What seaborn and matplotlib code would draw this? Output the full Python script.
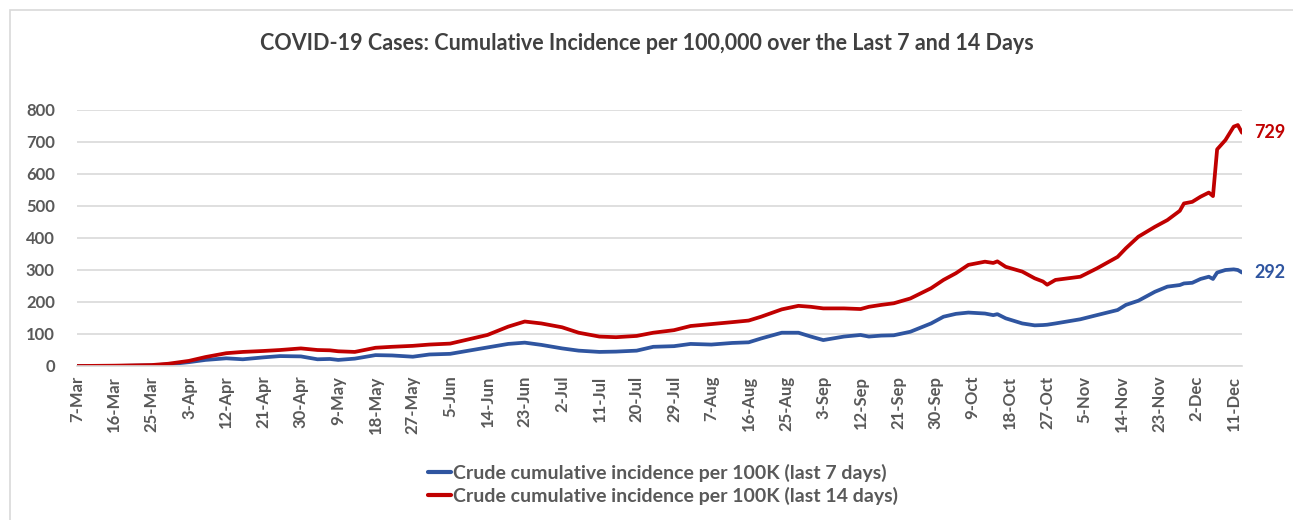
import pandas as pd
import numpy as np
import seaborn as sns
import matplotlib.pyplot as plt
import matplotlib.dates as mdates
from matplotlib.patches import Rectangle

# values (2020)
dates = ["2020-03-07", "2020-03-16", "2020-03-25", "2020-03-29", "2020-04-03", "2020-04-07",
         "2020-04-12", "2020-04-16", "2020-04-21", "2020-04-25", "2020-04-30", "2020-05-04",
         "2020-05-07", "2020-05-09", "2020-05-13", "2020-05-18", "2020-05-22", "2020-05-27",
         "2020-05-31", "2020-06-05", "2020-06-14", "2020-06-19", "2020-06-23", "2020-06-27",
         "2020-07-02", "2020-07-06", "2020-07-11", "2020-07-15", "2020-07-20", "2020-07-24",
         "2020-07-29", "2020-08-02", "2020-08-07", "2020-08-12", "2020-08-16", "2020-08-19",
         "2020-08-24", "2020-08-28", "2020-08-31", "2020-09-03", "2020-09-08", "2020-09-12",
         "2020-09-14", "2020-09-17", "2020-09-20", "2020-09-24", "2020-09-29", "2020-10-02",
         "2020-10-05", "2020-10-08", "2020-10-12", "2020-10-14", "2020-10-15", "2020-10-17",
         "2020-10-21", "2020-10-24", "2020-10-26", "2020-10-27", "2020-10-29", "2020-11-04",
         "2020-11-08", "2020-11-13", "2020-11-15", "2020-11-18", "2020-11-22", "2020-11-25",
         "2020-11-28", "2020-11-29", "2020-12-01", "2020-12-03", "2020-12-05", "2020-12-06",
         "2020-12-07", "2020-12-09", "2020-12-11", "2020-12-12", "2020-12-13"]

last_14 = [0, 1, 3, 7, 16, 28,
           40, 44, 47, 50, 55, 50,
           49, 46, 44, 57, 60, 63,
           67, 70, 97, 123, 139, 133,
           121, 104, 92, 90, 94, 104,
           112, 125, 131, 137, 142, 154,
           177, 188, 185, 180, 180, 178,
           185, 191, 196, 211, 243, 269,
           290, 316, 326, 322, 327, 310,
           295, 274, 264, 254, 269, 279,
           305, 341, 368, 404, 435, 456,
           485, 508, 513, 529, 542, 531,
           677, 706, 748, 753, 729]

last_7 = [0, 0, 2, 5, 12, 19,
          24, 21, 27, 31, 30, 21,
          22, 19, 23, 34, 33, 29,
          36, 38, 58, 69, 73, 66,
          55, 48, 44, 45, 48, 60,
          62, 69, 67, 72, 74, 86,
          104, 104, 92, 81, 92, 97,
          92, 95, 96, 107, 133, 154,
          163, 167, 164, 159, 162, 149,
          133, 127, 128, 129, 133, 146,
          159, 175, 191, 204, 232, 248,
          253, 258, 260, 272, 279, 272,
          292, 300, 302, 300, 292]

series_labels = ["Crude cumulative incidence per 100K (last 7 days)",
                 "Crude cumulative incidence per 100K (last 14 days)"]
colors = ["#2F55A0", "#C00000"]

df = pd.DataFrame({"date": pd.to_datetime(dates), series_labels[0]: last_7, series_labels[1]: last_14})
long_df = df.melt(id_vars="date", var_name="series", value_name="value")

sns.set_theme(style="white")
plt.rcParams['font.family'] = ['Lato', 'DejaVu Sans']
grey = "#595959"

fig = plt.figure(figsize=(12.93, 5.2), dpi=100)
ax = fig.add_axes([77 / 1293, 1 - 366 / 520, (1242 - 77) / 1293, (366 - 110) / 520])

# light chart border
fig.patches.append(Rectangle((10 / 1293, -0.1), 1.2, 1 - 10 / 520 + 0.1, transform=fig.transFigure,
                             fill=False, edgecolor="#d9d9d9", linewidth=1.2))

sns.lineplot(data=long_df, x="date", y="value", hue="series", palette=colors,
             linewidth=2.7, ax=ax, legend=False)

ax.set_ylim(0, 800)
ax.set_yticks(range(0, 801, 100))
ax.set_xlim(pd.Timestamp("2020-03-07"), pd.Timestamp("2020-12-13"))
ax.set_xticks(pd.date_range("2020-03-07", "2020-12-11", freq="9D"))
ax.xaxis.set_major_formatter(mdates.DateFormatter("%-d-%b"))
ax.set_xlabel("")
ax.set_ylabel("")

ax.grid(axis="y", color="#d9d9d9", linewidth=1.2)
ax.set_axisbelow(True)
for side in ["top", "right", "left"]:
    ax.spines[side].set_visible(False)
ax.spines["bottom"].set_color("#d9d9d9")
ax.spines["bottom"].set_linewidth(1.2)
ax.tick_params(axis="x", which="major", direction="out", length=5, width=1, color="#d9d9d9",
               labelrotation=90, labelsize=12, labelcolor=grey, pad=2)
ax.tick_params(axis="y", length=0, labelsize=12, labelcolor=grey, pad=16)
for lbl in ax.get_xticklabels() + ax.get_yticklabels():
    lbl.set_fontweight("bold")

# end-of-line labels
for vals, c in [(last_14, colors[1]), (last_7, colors[0])]:
    ax.annotate(f"{vals[-1]}", (df["date"].iloc[-1], vals[-1]), xytext=(9, 0),
                textcoords="offset points", color=c, fontsize=13, fontweight="bold",
                va="center", ha="left", annotation_clip=False)

fig.text(0.5, 1 - 43 / 520, "COVID-19 Cases: Cumulative Incidence per 100,000 over the Last 7 and 14 Days",
         ha="center", va="center", fontsize=15.5, fontweight="bold", color="#404040")

handles = [plt.Line2D([], [], color=c, linewidth=3) for c in colors]
leg = fig.legend(handles, series_labels, loc="center", bbox_to_anchor=(663 / 1293, 1 - 484 / 520),
                 frameon=False, ncol=1, handlelength=1.2, handletextpad=0.1, labelspacing=0.25,
                 prop={"size": 14, "weight": "bold"})
for t in leg.get_texts():
    t.set_color(grey)

fig.savefig("out.png", dpi=100)
